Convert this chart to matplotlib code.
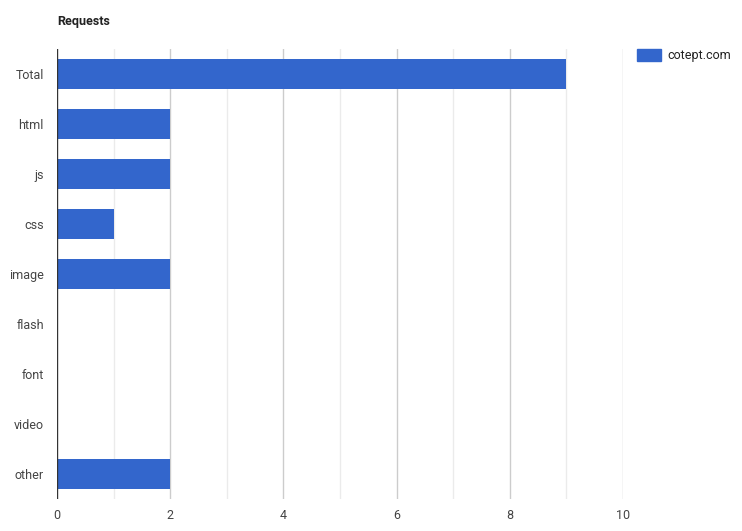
import matplotlib
matplotlib.use("Agg")
import matplotlib.pyplot as plt
from matplotlib.patches import Rectangle

categories = ["Total", "html", "js", "css", "image", "flash", "font", "video", "other"]
values = [9, 2, 2, 1, 2, 0, 0, 0, 2]
series_name = "cotept.com"
title = "Requests"
xticks = [0, 2, 4, 6, 8, 10]

plt.rcParams['font.family'] = ['Roboto', 'DejaVu Sans']
W, H = 742, 531
fig = plt.figure(figsize=(W/100, H/100), dpi=100)
ax = fig.add_axes([57/W, 1-499/H, 566/W, 450/H])

color = "#3366cc"
ypos = list(range(len(categories)))
ax.barh(ypos, values, height=0.6, color=color, zorder=3)
ax.set_ylim(len(categories)-0.5, -0.5)
ax.set_xlim(0, 10)

for x in range(1, 11):
    c = "#cccccc" if x % 2 == 0 else "#ebebeb"
    ax.axvline(x, color=c, lw=1, zorder=1)
ax.axvline(0, color="#333333", lw=1, zorder=4)

for s in ax.spines.values():
    s.set_visible(False)
ax.set_xticks(xticks)
ax.set_xticklabels([str(t) for t in xticks])
ax.set_yticks(ypos)
ax.set_yticklabels(categories)
ax.tick_params(axis='both', length=0, labelsize=9, colors="#444444")
ax.tick_params(axis='x', pad=7)
ax.tick_params(axis='y', pad=9.5)

fig.text(57/W, 1-21.5/H, title, fontsize=9, fontweight='bold', color="#222222", va='center', ha='left')

fig.patches.append(Rectangle((637/W, 1-61/H), 24/W, 12/H, transform=fig.transFigure, color=color, figure=fig))
fig.text(667/W, 1-55.5/H, series_name, fontsize=9, color="#222222", va='center', ha='left')

fig.savefig("out.png", dpi=100)
